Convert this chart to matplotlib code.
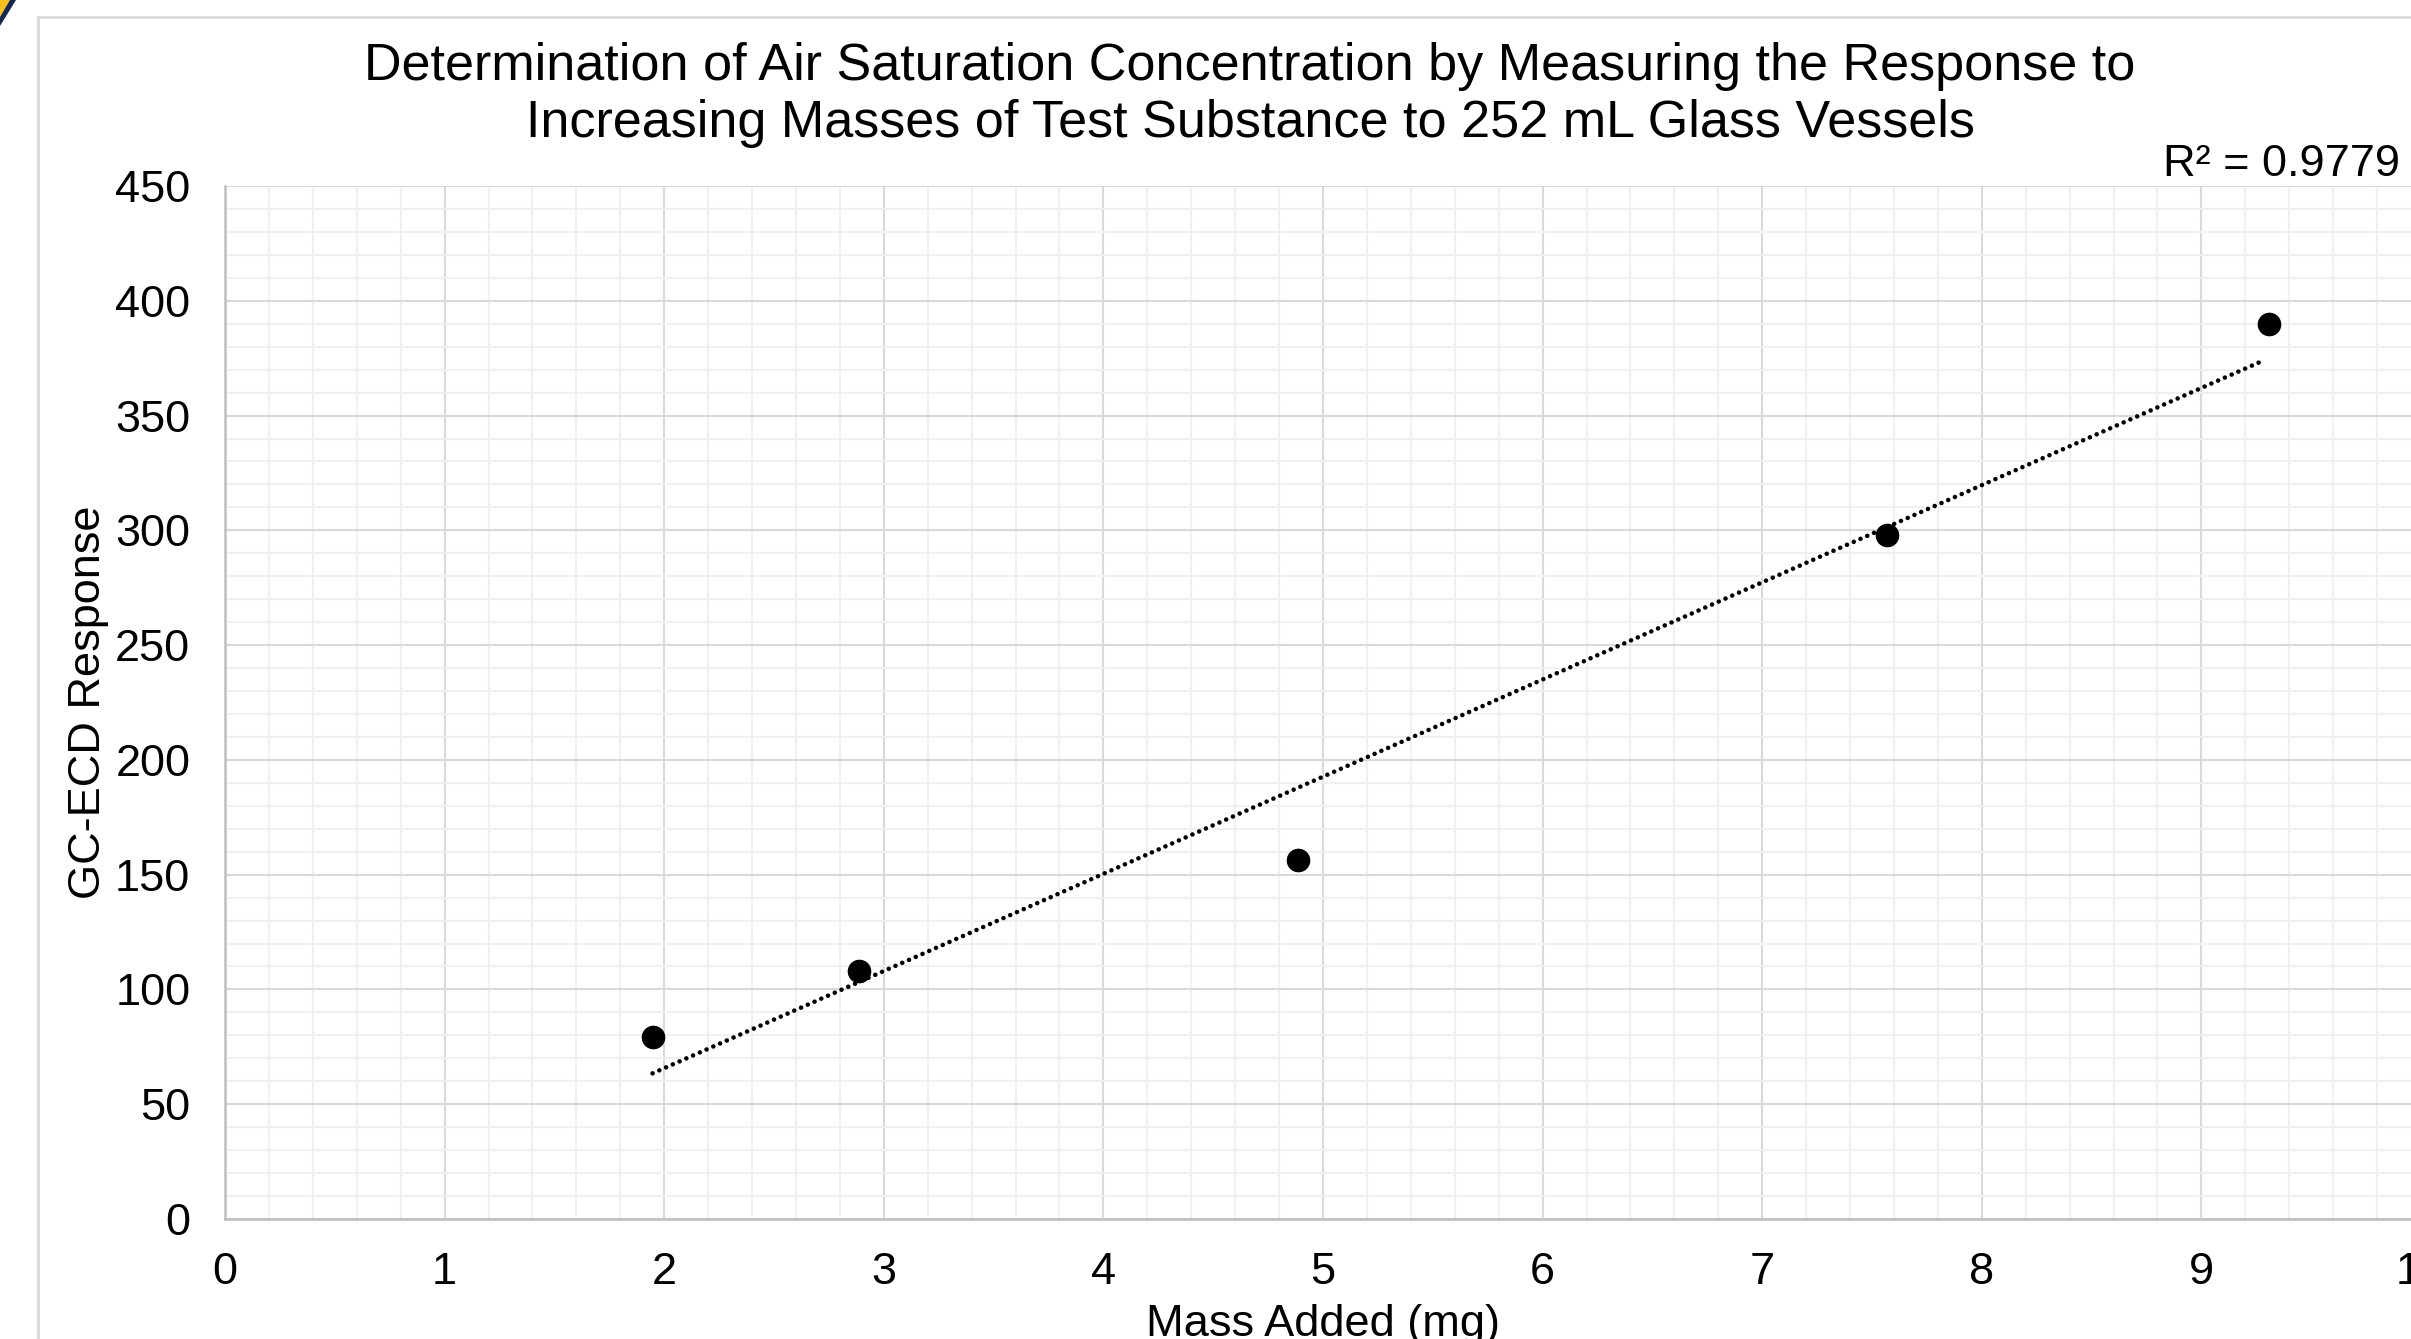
import numpy as np
import matplotlib
matplotlib.use('Agg')
import matplotlib.pyplot as plt
from matplotlib.patches import Rectangle, Polygon
from matplotlib.ticker import MultipleLocator

plt.rcParams['font.family'] = ['Liberation Sans', 'DejaVu Sans']

# Dados
mass_mg = [1.947, 2.885, 4.888, 7.570, 9.308]
response = [79.1, 108.0, 156.3, 297.8, 389.9]
r2_text = 'R² = 0.9779'
title = ('Determination of Air Saturation Concentration by Measuring the Response to\n'
         'Increasing Masses of Test Substance to 252 mL Glass Vessels')

W, H = 2411, 1339
fig = plt.figure(figsize=(W / 100, H / 100), dpi=100)

# borda da area do grafico (estilo Excel)
fig.patches.append(Rectangle((38 / W, -0.1), 1.2, 1 - 17 / H + 0.1, transform=fig.transFigure,
                             fill=False, edgecolor='#d9d9d9', linewidth=2))
# pedaco do logo no canto
fig.patches.append(Polygon([(0, 1), (10 / W, 1), (0, 1 - 17 / H)], closed=True,
                           transform=fig.transFigure, facecolor='#f5c01c', edgecolor='none'))
fig.patches.append(Polygon([(10 / W, 1), (16 / W, 1), (0, 1 - 26 / H), (0, 1 - 17 / H)], closed=True,
                           transform=fig.transFigure, facecolor='#17284a', edgecolor='none'))

ax = fig.add_axes([225 / W, 1 - 1219 / H, 2196 / W, 1033 / H])
ax.set_xlim(0, 10)
ax.set_ylim(0, 450)
ax.xaxis.set_major_locator(MultipleLocator(1))
ax.xaxis.set_minor_locator(MultipleLocator(0.2))
ax.yaxis.set_major_locator(MultipleLocator(50))
ax.yaxis.set_minor_locator(MultipleLocator(10))
ax.grid(which='minor', color='#f0f0f0', linewidth=1.5)
ax.grid(which='major', color='#d9d9d9', linewidth=1.5)
ax.set_axisbelow(True)

for s in ['top', 'right']:
    ax.spines[s].set_visible(False)
for s in ['left', 'bottom']:
    ax.spines[s].set_color('#bfbfbf')
    ax.spines[s].set_linewidth(1.8)

ax.tick_params(which='both', length=0, labelsize=32.5, colors='black')
ax.tick_params(axis='x', pad=24)
ax.tick_params(axis='y', pad=25)

# linha de tendencia linear
coef = np.polyfit(mass_mg, response, 1)
xt = np.array([min(mass_mg), max(mass_mg) - 0.03])
ax.plot(xt, np.polyval(coef, xt), color='black', linewidth=3.3,
        linestyle=(0, (0.01, 1.6)), dash_capstyle='round', zorder=3)

ax.plot(mass_mg, response, 'o', color='black', markersize=16, zorder=4)

ax.set_xlabel('Mass Added (mg)', fontsize=32.5, labelpad=8)
ax.set_ylabel('GC-ECD Response', fontsize=32.5, labelpad=4)

fig.text(1250 / W, 1 - 95 / H, title, ha='center', va='center', fontsize=37.5, linespacing=1.2)
fig.text(2400 / W, 1 - 165 / H, r2_text, ha='right', va='center', fontsize=32.5)

fig.savefig('out.png', dpi=100)
